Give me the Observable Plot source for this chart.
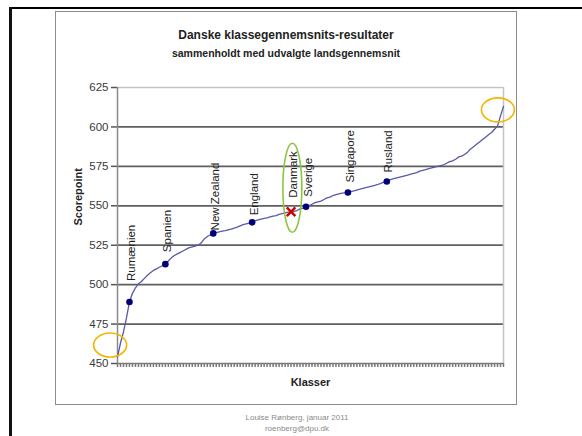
<!DOCTYPE html>
<html><head><meta charset="utf-8">
<script src="https://cdn.jsdelivr.net/npm/d3@7"></script>
<script src="https://cdn.jsdelivr.net/npm/@observablehq/plot@0.6"></script>
<style>
html,body{margin:0;padding:0;background:#fff;}
#page{position:relative;width:582px;height:436px;overflow:hidden;font-family:"Liberation Sans",Arial,sans-serif;}
.abs{position:absolute;}
#frameTop{left:9px;top:7px;width:573px;height:2px;background:#000;}
#frameLeft{left:9px;top:7px;width:3px;height:429px;background:#111;}
#box{left:55px;top:11px;width:460px;height:392px;border:1.5px solid #8c8c8c;}
#title{left:56px;top:28px;width:460px;text-align:center;font-weight:bold;font-size:12px;line-height:14px;color:#222;}
#subtitle{left:56px;top:47px;width:460px;text-align:center;font-weight:bold;font-size:10.5px;line-height:12px;color:#222;}
#chart{left:56px;top:70px;}
.foot{left:197px;width:200px;text-align:center;font-size:8px;line-height:10px;color:#8a8a8a;font-family:"Liberation Sans",sans-serif;}
</style></head>
<body><div id="page">
<div id="frameTop" class="abs"></div>
<div id="frameLeft" class="abs"></div>
<div id="box" class="abs"></div>
<div id="title" class="abs">Danske klassegennemsnits-resultater</div>
<div id="subtitle" class="abs">sammenholdt med udvalgte landsgennemsnit</div>
<div id="chart" class="abs"></div>
<div class="abs foot" style="top:413px">Louise Rønberg, januar 2011</div>
<div class="abs foot" style="top:424px">roenberg@dpu.dk</div>
</div>
<script>
// Danish class averages, sorted (one value per class)
const classScores = [
  454, 463, 470, 479, 489, 494.5, 498, 500.5, 502, 504,
  506, 507.5, 509, 510, 511, 512, 513, 515, 517, 518.5,
  519.5, 520.5, 521.5, 522.5, 523.5, 524, 524.5, 525, 526.5, 529,
  530.5, 531.5, 532.5, 533, 533.5, 534, 534.3, 534.8, 535.2, 535.8,
  536.5, 537.3, 538, 538.5, 539, 539.5, 540.5, 541, 541.5, 542,
  542.3, 543, 543.5, 543.8, 544.5, 545, 545.5, 546, 546.2, 546.5,
  547, 548, 548.5, 549.4, 550, 551, 552, 552.5, 553, 554,
  555, 555.5, 556.5, 557, 557.5, 558, 558.2, 558.4, 559, 559.5,
  560, 560.5, 561, 561.5, 562, 562.5, 563, 563.5, 564.2, 565,
  565.4, 566.5, 567, 567.5, 568, 568.5, 569, 569.5, 570, 570.5,
  571, 572, 572.5, 573, 573.5, 574, 574.5, 575, 575.5, 576,
  577, 578, 578.5, 579.5, 581, 581.5, 582.5, 584, 586, 587.5,
  589, 590.5, 592, 593.5, 595, 596.5, 598.5, 600.5, 607, 613
];
// Selected country averages, placed at their rank among the classes
const countries    = ["Rumænien", "Spanien", "New Zealand", "England", "Danmark", "Sverige", "Singapore", "Rusland"];
const countryClass = [5, 17, 33, 46, 59, 64, 78, 91];
const countryScore = [489, 513, 532.5, 539.5, 546.2, 549.4, 558.4, 565.4];
const yTicks = [450, 475, 500, 525, 550, 575, 600, 625];
const gridValues = [475, 500, 525, 550, 575, 600];

const n = classScores.length;
const classIdx = d3.range(1, n + 1);
const curve = classScores.map((v, i) => ({k: i + 1, v}));
const pts = countries.map((c, i) => ({name: c, k: countryClass[i], v: countryScore[i]}));
const labelGap = {"Rumænien": 21, "Spanien": 12, "New Zealand": 3, "England": 7, "Danmark": 14, "Sverige": 10, "Singapore": 10, "Rusland": 9};

const chart = Plot.plot({
  width: 460, height: 334,
  marginLeft: 61, marginRight: 13, marginTop: 17, marginBottom: 41,
  style: {fontFamily: "Liberation Sans, Arial, sans-serif", fontSize: "11.5px", color: "#3a3a3a", background: "transparent"},
  x: {domain: [1, n]},
  y: {domain: [450, 625]},
  marks: [
    Plot.ruleY(gridValues, {stroke: "#5f5f5f", strokeWidth: 1.8}),
    Plot.ruleY([625], {stroke: "#c4c4c4", strokeWidth: 1.5}),
    Plot.ruleX([n], {stroke: "#c4c4c4", strokeWidth: 1.5}),
    Plot.axisY({ticks: yTicks, tickSize: 6, tickPadding: 3, stroke: "#555", strokeWidth: 1.5, label: null}),
    Plot.axisX({ticks: classIdx, tickSize: 4, tickFormat: () => "", label: null, stroke: "#777", strokeWidth: 1.5}),
    Plot.ruleX([1], {stroke: "#8a8a8a", strokeWidth: 1.5}),
    Plot.ruleY([450], {stroke: "#7a7a7a", strokeWidth: 1.5}),
    Plot.line(curve, {x: "k", y: "v", stroke: "#5858a8", strokeWidth: 1.3}),
    Plot.dot(pts.filter(d => d.name !== "Danmark"), {x: "k", y: "v", r: 3.3, fill: "#00007a"}),
    Plot.dot(pts.filter(d => d.name === "Danmark"), {x: "k", y: "v", symbol: "times", r: 4, stroke: "#d00000", strokeWidth: 2.5}),
    ...pts.map(d => Plot.text([d], {x: "k", y: "v", text: "name", rotate: -90, textAnchor: "start", lineAnchor: "middle", dx: 2, dy: -labelGap[d.name], fill: "#222", fontSize: 11.5})),
    Plot.text(["Scorepoint"], {frameAnchor: "left", dx: -39, rotate: -90, text: d => d, fontWeight: "bold", fontSize: 11, fill: "#222"}),
    Plot.text(["Klasser"], {frameAnchor: "bottom", dy: 19, text: d => d, fontWeight: "bold", fontSize: 11, fill: "#222", lineAnchor: "middle"})
  ]
});
document.getElementById("chart").appendChild(chart);

// annotation ellipses (centres in data units, radii in px)
const sx = chart.scale("x"), sy = chart.scale("y");
const notes = [
  {k: -1.3, v: 461.4, rx: 16.5, ry: 12, color: "#f5b400"},
  {k: 128.3, v: 610.5, rx: 16.5, ry: 12, color: "#f5b400"},
  {k: 59.6, v: 561.1, rx: 9.5, ry: 44.5, color: "#8cc63f"}
];
const svg = d3.select(chart);
for (const a of notes) {
  svg.append("ellipse")
    .attr("cx", sx.apply(a.k)).attr("cy", sy.apply(a.v))
    .attr("rx", a.rx).attr("ry", a.ry)
    .attr("fill", "none").attr("stroke", a.color).attr("stroke-width", 1.6);
}
</script>
</body></html>
